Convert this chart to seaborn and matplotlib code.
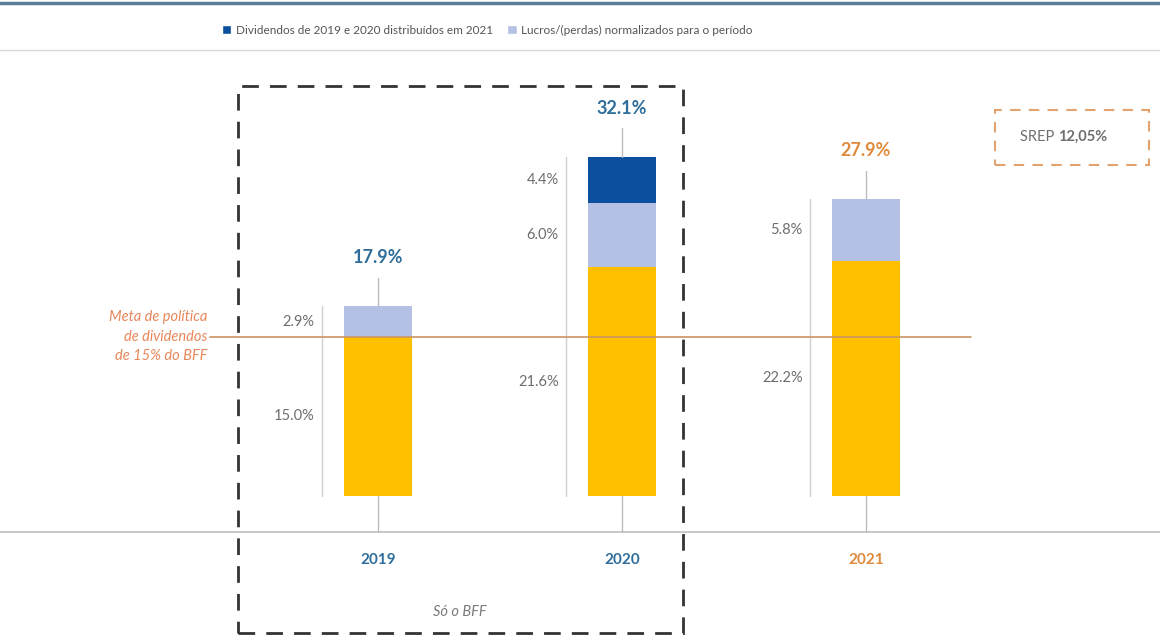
import matplotlib
matplotlib.use("Agg")
import matplotlib.pyplot as plt
from matplotlib.patches import Rectangle, Patch
import seaborn as sns
import pandas as pd
import numpy as np

# ---- data ----
years = ["2019", "2020", "2021"]
base = [15.0, 21.6, 22.2]            # yellow segment
normalized = [2.9, 6.0, 5.8]         # lavender segment
dividends = [np.nan, 4.4, np.nan]    # navy segment (2020 only)
totals = [17.9, 32.1, 27.9]
total_labels = ["17.9%", "32.1%", "27.9%"]
year_colors = ["#2F6E9A", "#2F6E9A", "#E08A3C"]
target = 15.0
legend_labels = ["Dividendos de 2019 e 2020 distribuídos em 2021",
                 "Lucros/(perdas) normalizados para o período"]

C_YEL = "#FFC000"
C_LAV = "#B4C0E4"
C_NAV = "#0B4F9E"

sns.set_theme(style="white")
plt.rcParams["font.family"] = ["Lato", "DejaVu Sans"]

fig = plt.figure(figsize=(11.6, 6.43), dpi=100)
ax = fig.add_axes([0, 0, 1, 1])

cum1 = np.array(base)
cum2 = cum1 + np.array(normalized)
cum3 = cum2 + np.nan_to_num(np.array(dividends))
cum3 = np.where(np.isnan(np.array(dividends)), np.nan, cum3)

df = pd.DataFrame({"year": years, "c1": cum1, "c2": cum2, "c3": cum3})
W = 0.28
for col, c in [("c3", C_NAV), ("c2", C_LAV), ("c1", C_YEL)]:
    sns.barplot(data=df, x="year", y=col, color=c, width=W, ax=ax, saturation=1,
                order=years, linewidth=0, edgecolor=c)

px_per_unit = 244.0
px_per_pct = 10.6
ax.set_xlim(-378 / px_per_unit, (1160 - 378) / px_per_unit)
ax.set_ylim(-147 / px_per_pct, (643 - 147) / px_per_pct)
ax.set_axis_off()

grey_line = "#BDBDBD"
axis_y = -3.4
ax.axhline(axis_y, color="#BFBFBF", lw=1.2, zorder=1)

bar_tops = np.nanmax(np.vstack([cum1, cum2, np.nan_to_num(cum3)]), axis=0)
for i in range(len(years)):
    top = bar_tops[i]
    ax.plot([i, i], [top, top + 2.7], color=grey_line, lw=1, zorder=1)
    ax.plot([i, i], [0, axis_y], color=grey_line, lw=1, zorder=1)
    ax.plot([i - 0.23, i - 0.23], [0, top], color="#D0D0D0", lw=1, zorder=1)
    ax.text(i, top + 4.6, total_labels[i], ha="center", va="center",
            fontsize=13, fontweight="bold", color=year_colors[i])
    segs = [(base[i], 0.0), (normalized[i], cum1[i])]
    if not np.isnan(dividends[i]):
        segs.append((dividends[i], cum2[i]))
    for v, b in segs:
        ax.text(i - 0.26, b + v / 2, f"{v:.1f}%", ha="right", va="center",
                fontsize=10.5, color="#6E6E6E")
    ax.text(i, -6.0, years[i], ha="center", va="center", fontsize=11,
            fontweight="bold", color=year_colors[i])

# target line
ax.plot([-0.69, 2.43], [target, target], color="#C9955F", lw=1.2, zorder=2)
ax.text(-0.70, target, "Meta de política\nde dividendos\nde 15% do BFF", ha="right",
        va="center", fontsize=10.5, style="italic", color="#E8875A", linespacing=1.5)

# dashed box
ax.add_patch(Rectangle((-0.574, -12.9), 1.25 + 0.574, 38.7 + 12.9, fill=False,
                       edgecolor="#333333", lw=2, linestyle=(0, (6, 4)), zorder=3))
ax.text(0.336, -10.9, "Só o BFF", ha="center", va="center", fontsize=10.5,
        style="italic", color="#7A7A7A")

# SREP box
ax.add_patch(Rectangle((2.53, 31.2), 3.16 - 2.53, 36.4 - 31.2, fill=False,
                       edgecolor="#E3A36F", lw=1.5, linestyle=(0, (5, 4)), zorder=3))
ax.text(2.785, 33.9, "SREP ", ha="right", va="center", fontsize=10.5, color="#6E6E6E")
ax.text(2.785, 33.9, "12,05%", ha="left", va="center", fontsize=10.5,
        fontweight="bold", color="#6E6E6E")

# top rules
fig.add_artist(plt.Line2D([0, 1], [1 - 3 / 643, 1 - 3 / 643], color="#5B7C99", lw=2.5))
fig.add_artist(plt.Line2D([0, 1], [1 - 50 / 643, 1 - 50 / 643], color="#D9D9D9", lw=1))

handles = [Patch(facecolor=C_NAV), Patch(facecolor=C_LAV)]
leg = fig.legend(handles, legend_labels, loc="center", bbox_to_anchor=(0.42, 1 - 30 / 643),
                 ncol=2, frameon=False, fontsize=8.5, handlelength=0.8, handleheight=0.8,
                 columnspacing=1.2, handletextpad=0.4)
for t in leg.get_texts():
    t.set_color("#555555")

fig.savefig("out.png", dpi=100)
